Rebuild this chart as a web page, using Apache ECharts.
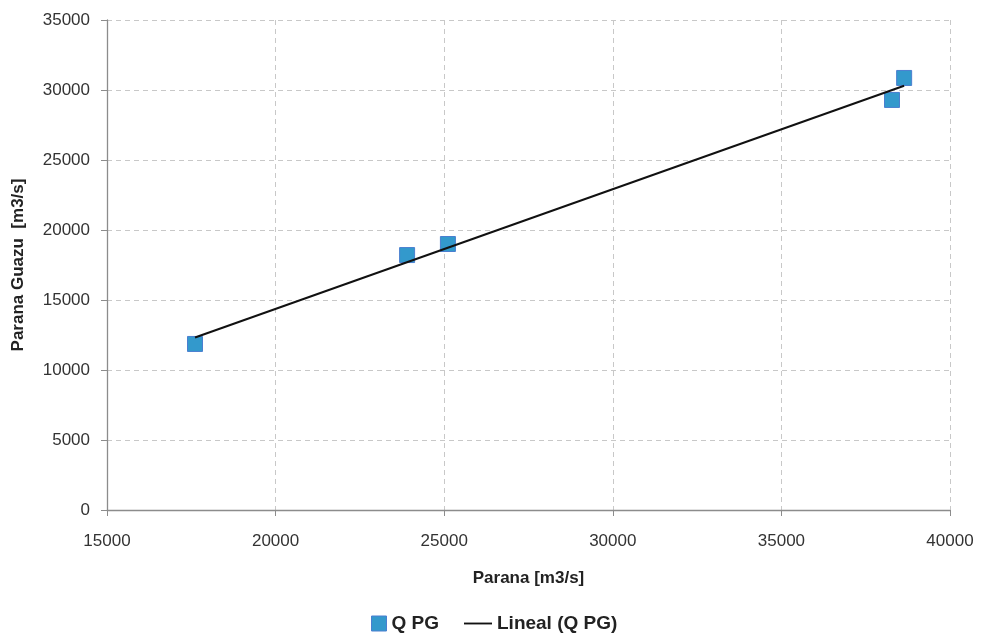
<!DOCTYPE html>
<html><head><meta charset="utf-8">
<script src="https://cdn.jsdelivr.net/npm/echarts@6/dist/echarts.min.js"></script>
<style>html,body{margin:0;padding:0;background:#fff}#c{width:981px;height:637px}</style>
</head><body><div id="c"></div>
<script>
const paranaX = [17610, 23900, 25110, 38280, 38640];
const guazuY = [11860, 18210, 19000, 29290, 30860];
const trendX = [17610, 38640];
const trendY = [12320, 30300];
const xTicks = [15000, 20000, 25000, 30000, 35000, 40000];
const yTicks = [0, 5000, 10000, 15000, 20000, 25000, 30000, 35000];

const FONT = "'Liberation Sans', Arial, sans-serif";
const legendText = {fontSize: 19, fontWeight: 'bold', color: '#222', fontFamily: FONT};
const chart = echarts.init(document.getElementById('c'));
chart.setOption({
  animation: false,
  textStyle: {fontFamily: FONT},
  grid: {left: 107, right: 31, top: 20, bottom: 127, containLabel: false, outerBoundsMode: 'none'},
  xAxis: {
    type: 'value', min: xTicks[0], max: xTicks[xTicks.length - 1], interval: 5000,
    name: 'Parana [m3/s]', nameLocation: 'middle', nameGap: 60,
    nameTextStyle: {fontSize: 17, fontWeight: 'bold', color: '#222', fontFamily: FONT},
    axisLine: {show: true, lineStyle: {color: '#8c8c8c', width: 1.3}},
    axisTick: {show: true, inside: false, length: 6, lineStyle: {color: '#8c8c8c'}},
    axisLabel: {fontSize: 17, color: '#333', margin: 23, fontFamily: FONT, formatter: v => String(v)},
    splitLine: {show: true, lineStyle: {type: [5, 4], color: '#c8c8c8', width: 1}}
  },
  yAxis: {
    type: 'value', min: yTicks[0], max: yTicks[yTicks.length - 1], interval: 5000,
    name: 'Parana Guazu  [m3/s]', nameLocation: 'middle', nameGap: 80, nameRotate: 90,
    nameTextStyle: {fontSize: 17, fontWeight: 'bold', color: '#222', fontFamily: FONT},
    axisLine: {show: true, lineStyle: {color: '#8c8c8c', width: 1.3}},
    axisTick: {show: true, inside: false, length: 6, lineStyle: {color: '#8c8c8c'}},
    axisLabel: {fontSize: 17, color: '#333', margin: 17, fontFamily: FONT, formatter: v => String(v)},
    splitLine: {show: true, lineStyle: {type: [5, 4], color: '#c8c8c8', width: 1}}
  },
  legend: [
    {
      top: 609, left: 366, itemWidth: 15, itemHeight: 15, itemGap: 0,
      textStyle: legendText,
      data: [{name: 'Q PG', icon: 'rect', itemStyle: {color: '#3399cc', borderColor: '#4a7fd0', borderWidth: 1, opacity: 1}}]
    },
    {
      top: 609, left: 459, itemWidth: 28, itemHeight: 15, itemGap: 0,
      textStyle: legendText,
      data: [{name: 'Lineal (Q PG)', icon: 'path://M0,7 L30,7 L30,9 L0,9 Z', itemStyle: {color: '#111'}}]
    }
  ],
  series: [
    {
      name: 'Lineal (Q PG)', type: 'line', symbol: 'none', z: 3,
      lineStyle: {color: '#111', width: 2},
      itemStyle: {color: '#111'},
      data: trendX.map((x, i) => [x, trendY[i]])
    },
    {
      name: 'Q PG', type: 'scatter', symbol: 'rect', symbolSize: 15, z: 2,
      itemStyle: {color: '#3399cc', borderColor: '#4a7fd0', borderWidth: 1, opacity: 1},
      data: paranaX.map((x, i) => [x, guazuY[i]])
    }
  ]
});
</script></body></html>
